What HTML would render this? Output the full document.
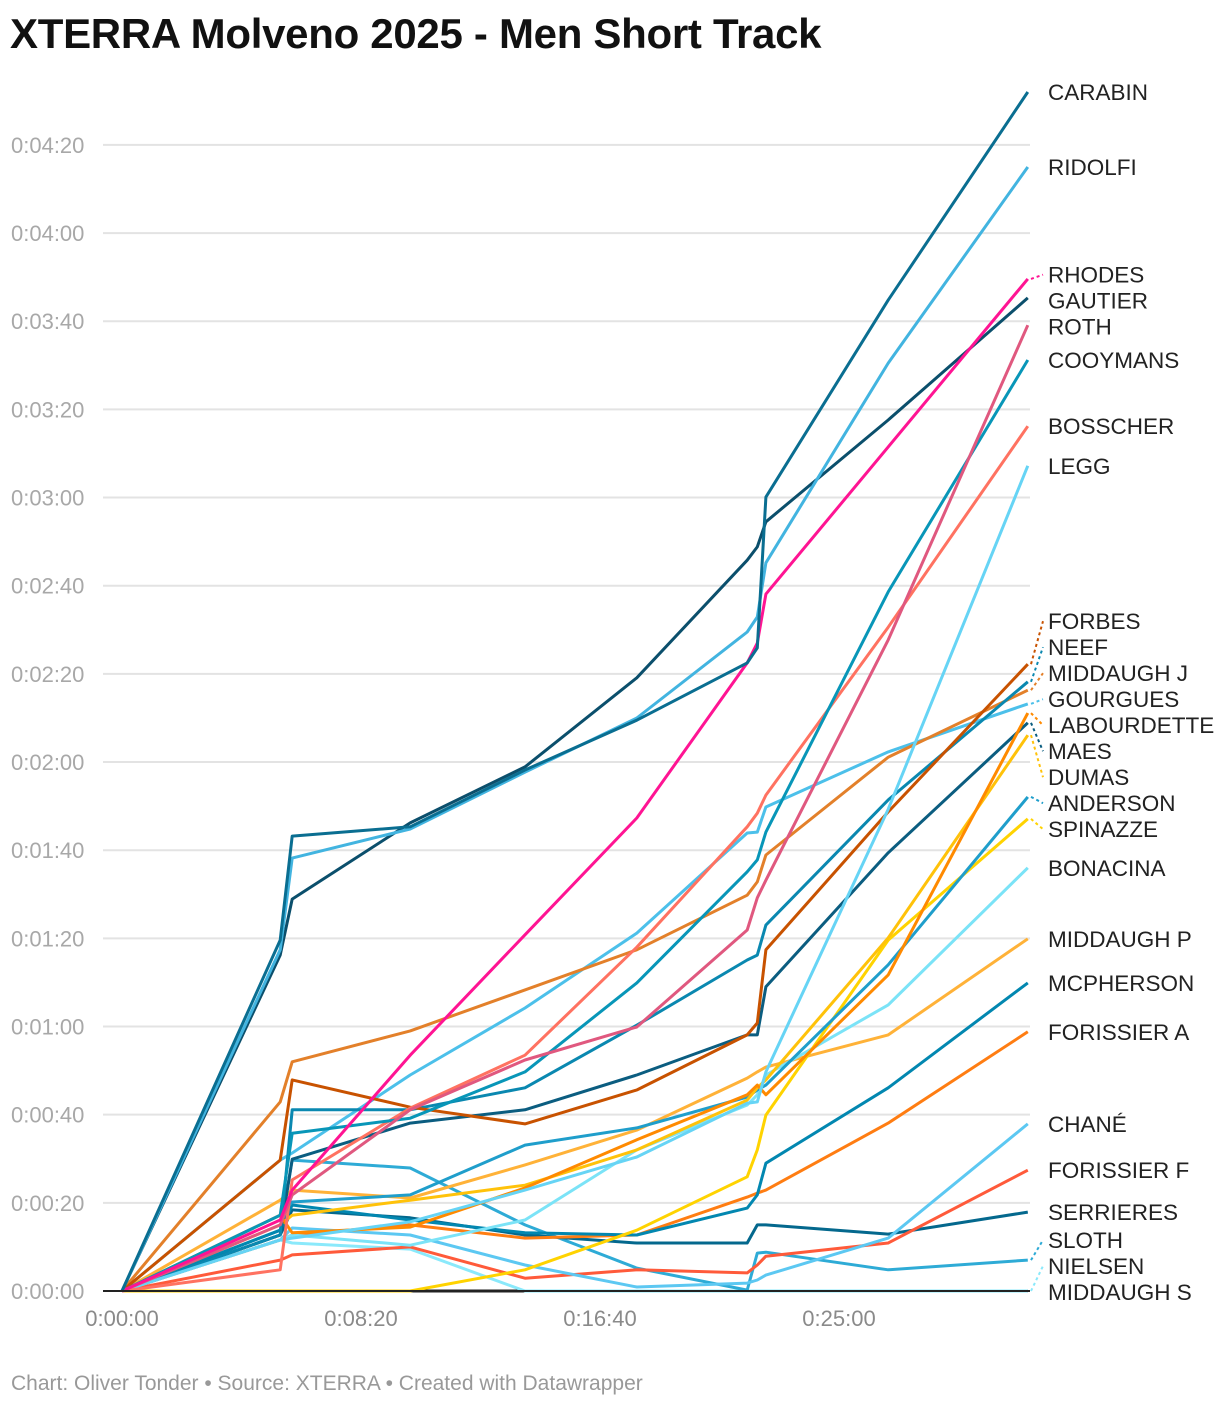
<!DOCTYPE html>
<html><head><meta charset="utf-8">
<style>
html,body{margin:0;padding:0;background:#fff;}
body{width:1220px;height:1408px;overflow:hidden;font-family:"Liberation Sans",sans-serif;}
#title{position:absolute;left:10px;top:10px;font-size:42px;font-weight:bold;color:#111;letter-spacing:-0.3px;}
#foot{position:absolute;left:11px;top:1372px;font-size:21px;color:#999;}
svg{position:absolute;left:0;top:0;}
</style></head><body>
<div id="title">XTERRA Molveno 2025 - Men Short Track</div>
<svg id="chart" width="1220" height="1408"></svg>
<div id="foot">Chart: Oliver Tonder • Source: XTERRA • Created with Datawrapper</div>
<script>
const checkpoints = [0,331,356,603,843,1077,1308,1329,1347,1603,1895];
const names = ["CARABIN","RIDOLFI","RHODES","GAUTIER","ROTH","COOYMANS","BOSSCHER","LEGG","FORBES","NEEF","MIDDAUGH J","GOURGUES","LABOURDETTE","MAES","DUMAS","ANDERSON","SPINAZZE","BONACINA","MIDDAUGH P","MCPHERSON","FORISSIER A","CHANÉ","FORISSIER F","SERRIERES","SLOTH","NIELSEN","MIDDAUGH S"];
const carabin = [0,79.6,103.2,105.3,118.2,129.5,142.5,145.9,180.1,224.8,272.0];
const ridolfi = [0,77.4,98.2,104.8,117.7,130.0,149.5,152.9,165.2,210.5,255.0];
const rhodes = [0,16.1,22.9,53.5,80.8,107.3,142.5,147.0,158.1,191.5,229.6];
const gautier = [0,76.2,88.9,106.2,118.9,139.1,165.8,168.8,174.5,197.6,225.3];
const roth = [0,15.0,21.8,41.1,52.4,59.9,81.9,89.2,93.2,147.7,219.1];
const cooymans = [0,17.2,35.8,39.2,49.7,69.9,95.1,97.8,104.1,158.6,211.2];
const bosscher = [0,4.8,25.2,41.5,53.5,78.0,105.3,108.4,112.5,150.6,196.2];
const legg = [0,11.6,12.0,15.7,22.9,30.4,42.6,42.9,49.7,109.3,187.2];
const forbes = [0,29.7,47.9,41.7,37.9,45.6,58.1,60.8,77.4,108.7,142.2];
const neef = [0,12.7,41.1,41.1,46.1,60.3,75.1,76.2,83.0,111.4,138.2];
const middaughJ = [0,42.9,52.0,59.0,68.3,77.4,89.8,92.8,98.9,121.1,136.3];
const gourgues = [0,29.7,31.3,49.0,64.2,81.2,103.9,104.1,109.8,122.3,133.2];
const labourdette = [0,17.2,13.2,14.5,23.4,34.3,44.5,46.7,44.5,71.7,131.1];
const maes = [0,12.7,29.9,38.1,41.1,49.0,58.1,58.1,69.0,99.4,128.9];
const dumas = [0,15.0,17.2,20.6,24.0,32.0,43.3,46.1,47.9,80.1,126.1];
const anderson = [0,17.2,20.2,21.8,33.1,37.0,44.0,45.6,46.7,74.0,112.1];
const spinazze = [0,0,0,0,4.8,13.8,25.9,32.0,39.9,79.6,107.1];
const bonacina = [0,11.6,12.7,10.4,16.1,32.0,42.2,44.5,49.0,64.9,96.0];
const middaughP = [0,20.6,22.9,21.1,28.6,36.5,48.3,49.7,50.8,58.1,79.9];
const mcpherson = [0,13.8,19.5,16.1,13.2,12.7,18.8,21.8,29.0,46.1,69.9];
const forissierA = [0,11.6,12.7,15.0,12.0,12.7,21.3,22.2,22.9,38.1,58.8];
const chane = [0,11.6,14.3,12.7,5.9,0.9,1.8,2.5,3.6,12.0,37.9];
const forissierF = [0,7.0,8.2,10.0,2.9,4.8,4.1,5.9,7.9,10.9,27.4];
const serrieres = [0,12.7,18.4,16.6,12.7,10.9,10.9,15.0,15.0,12.9,17.9];
const sloth = [0,13.8,29.7,27.9,15.0,5.2,0.2,8.6,8.8,4.8,7.0];
const nielsen = [0,11.6,10.9,9.5,0,0,0,0,0,0,0];
const middaughS = [0,0,0,0,0,0,0,0,0,0,0];
const yTicks = [0,20,40,60,80,100,120,140,160,180,200,220,240,260];
const yTickLabels = ["0:00:00","0:00:20","0:00:40","0:01:00","0:01:20","0:01:40","0:02:00","0:02:20","0:02:40","0:03:00","0:03:20","0:03:40","0:04:00","0:04:20"];
const xTicks = [0,500,1000,1500];
const xTickLabels = ["0:00:00","0:08:20","0:16:40","0:25:00"];

const seriesVals = [carabin,ridolfi,rhodes,gautier,roth,cooymans,bosscher,legg,forbes,neef,middaughJ,gourgues,labourdette,maes,dumas,anderson,spinazze,bonacina,middaughP,mcpherson,forissierA,chane,forissierF,serrieres,sloth,nielsen,middaughS];
const colors = ["#0a6e91","#42b4e0","#ff1493","#0b4f6c","#e0587f","#0896b8","#ff7261","#66d4f5","#c85200","#0a88b0","#e3802a","#4cc0ea","#ff8a00","#0b5d80","#ffc20a","#1f9ecb","#ffd300","#7be3f7","#ffb238","#0287b0","#ff7d12","#5cc8f2","#ff5a3a","#04688d","#2eabd6","#8ae9fb","#222222"];

const NS="http://www.w3.org/2000/svg";
const svg=document.getElementById('chart');
const X=s=>122+s*0.478;
const Y=v=>1291-v*4.408;
function el(tag,attrs,parent){const e=document.createElementNS(NS,tag);for(const k in attrs)e.setAttribute(k,attrs[k]);(parent||svg).appendChild(e);return e;}

const grid=el('g',{});


yTicks.forEach((t,i)=>{
  if(t>0){const l=el('line',{x1:103,x2:1030,y1:Y(t),y2:Y(t),stroke:'#e3e3e3','stroke-width':2},grid);
    
    }
  const tx=el('text',{x:11,y:Y(t)+8,'font-size':22,fill:'#a8a8a8','font-family':'Liberation Sans, sans-serif'});
  tx.textContent=yTickLabels[i];
  
  
});
xTicks.forEach((t,i)=>{
  const tx=el('text',{x:X(t),y:1326,'font-size':22,fill:'#8a8a8a','text-anchor':'middle','font-family':'Liberation Sans, sans-serif'});
  tx.textContent=xTickLabels[i];
  
  
});

const lines=el('g',{fill:'none','stroke-width':3,'stroke-linejoin':'round'});


for(let i=seriesVals.length-1;i>=0;i--){
  const vals=seriesVals[i];
  const d=vals.map((v,j)=>(j?'L':'M')+X(checkpoints[j]).toFixed(1)+' '+Y(v).toFixed(1)).join(' ');
  const p=el('path',{d:d,stroke:colors[i]},lines);
  
  
}
const base=el('line',{x1:103,x2:1030,y1:1291,y2:1291,stroke:'#222','stroke-width':2});



const last=checkpoints.length-1;
const items=names.map((n,i)=>({i:i,target:Y(seriesVals[i][last]),y:Y(seriesVals[i][last])}));
items.sort((a,b)=>a.target-b.target||a.i-b.i);
const gap=26;
for(let it=0;it<400;it++){
  let moved=false;
  for(let k=1;k<items.length;k++){
    const o=items[k-1].y+gap-items[k].y;
    if(o>0.01){items[k-1].y-=o/2;items[k].y+=o/2;moved=true;}
  }
  const lb=items[items.length-1];
  if(lb.y>1292){lb.y=1292;}
  if(!moved)break;
}
for(let k=items.length-2;k>=0;k--){if(items[k].y>items[k+1].y-gap)items[k].y=items[k+1].y-gap;}
const lab=el('g',{});


items.forEach(o=>{
  if(Math.abs(o.y-o.target)>4){
    const c=el('line',{x1:1031,y1:o.target,x2:1043,y2:o.y,stroke:colors[o.i],'stroke-width':2,'stroke-dasharray':'3,3'},lab);
    
    
  }
  const t=el('text',{x:1048,y:o.y+8,'font-size':22.5,fill:'#222','font-family':'Liberation Sans, sans-serif'},lab);
  t.textContent=names[o.i];
  
  
});
</script>
</body></html>
